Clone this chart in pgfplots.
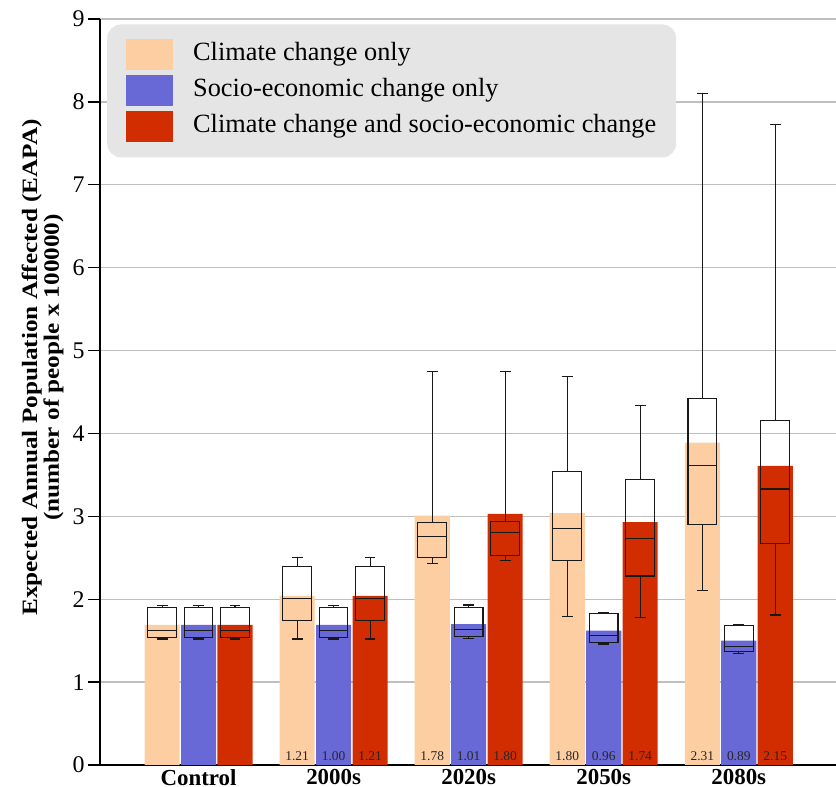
\documentclass[border=0pt]{standalone}
\usepackage{fontspec}
\setmainfont{Liberation Serif}
\newfontfamily\stretchbf[FakeStretch=1.15]{Liberation Serif}
\usepackage{pgfplots}
\pgfplotsset{compat=1.18}
\usepgfplotslibrary{statistics}
\definecolor{peach}{RGB}{253,206,162}
\definecolor{cblue}{RGB}{104,104,214}
\definecolor{cred}{RGB}{209,45,0}
\definecolor{leggray}{RGB}{229,229,229}
\newcommand{\bx}[6]{\addplot[black!90, line width=1.1bp, solid, mark=none, forget plot,
  boxplot/draw direction=y,
  boxplot prepared={draw position=#1, lower whisker=#2, lower quartile=#3, median=#4,
  upper quartile=#5, upper whisker=#6, box extend=0.212, whisker extend=0.08}] coordinates {};}
\begin{document}
\begin{tikzpicture}
\useasboundingbox (-100bp,-22bp) rectangle (736bp,765bp);
\begin{axis}[
  scale only axis, width=736bp, height=746bp,
  xmin=-0.73, xmax=4.72, ymin=0, ymax=9,
  axis x line*=bottom, axis y line*=left,
  axis line style={line width=2bp, black},
  ytick={0,...,9}, ymajorgrids,
  grid style={line width=1.3bp, black!25},
  tick align=outside, major tick length=12bp,
  tick style={line width=1.3bp, black},
  /pgf/number format/assume math mode=true,
  yticklabel style={font=\fontsize{24}{24}\selectfont},
  xtick={0,1,2,3,4},
  xticklabels={Control,2000s,2020s,2050s,2080s},
  xticklabel style={font=\bfseries\fontsize{23}{23}\selectfont, yshift=11bp},
  xtick style={draw=none},
  extra x ticks={0.5,1.5,2.5,3.5,4.5},
  extra x tick labels={},
  extra x tick style={grid=none, major tick length=21bp, tick style={line width=1.5bp, black, draw=black}},
  ylabel={Expected Annual Population Affected (EAPA)\\(number of people x 100000)},
  ylabel style={at={(axis description cs:-0.078,0.533)}, anchor=center, align=center,
    font={\stretchbf\bfseries\fontsize{22}{22}\selectfont}},
  legend style={at={(axis description cs:0.0095,0.993)}, anchor=north west,
    fill=leggray, draw=none, rounded corners=14bp,
    inner xsep=19bp, inner ysep=15bp, row sep=5bp,
    font=\fontsize{26.4}{26.4}\selectfont,
    nodes={inner sep=1bp, text height=18bp, text depth=6bp},
    /tikz/every odd column/.append style={column sep=19bp}},
  legend cell align=left,
]
% bars
\addplot[ybar, bar width=0.26, bar shift=0pt, fill=peach, draw=none,
  legend image code/.code={\fill[peach, sharp corners] (0bp,-15.5bp) rectangle (47bp,15.5bp);}]
  coordinates {(-0.27,1.69) (0.73,2.04) (1.73,3.01) (2.73,3.04) (3.73,3.89)};
\addlegendentry{Climate change only}
\addplot[ybar, bar width=0.26, bar shift=0pt, fill=cblue, draw=none,
  legend image code/.code={\fill[cblue, sharp corners] (0bp,-15.5bp) rectangle (47bp,15.5bp);}]
  coordinates {(0,1.69) (1,1.69) (2,1.70) (3,1.62) (4,1.50)};
\addlegendentry{Socio-economic change only}
\addplot[ybar, bar width=0.26, bar shift=0pt, fill=cred, draw=none,
  legend image code/.code={\fill[cred, sharp corners] (0bp,-15.5bp) rectangle (47bp,15.5bp);}]
  coordinates {(0.27,1.69) (1.27,2.04) (2.27,3.03) (3.27,2.93) (4.27,3.61)};
\addlegendentry{Climate change and socio-economic change}
% boxes: orange
\bx{-0.27}{1.52}{1.54}{1.62}{1.90}{1.92}
\bx{0.73}{1.52}{1.74}{2.01}{2.40}{2.50}
\bx{1.73}{2.43}{2.50}{2.76}{2.93}{4.75}
\bx{2.73}{1.79}{2.47}{2.85}{3.54}{4.69}
\bx{3.73}{2.11}{2.90}{3.61}{4.42}{8.10}
% boxes: blue
\bx{0}{1.52}{1.54}{1.62}{1.90}{1.92}
\bx{1}{1.52}{1.54}{1.62}{1.90}{1.92}
\bx{2}{1.53}{1.55}{1.63}{1.90}{1.93}
\bx{3}{1.46}{1.48}{1.56}{1.83}{1.84}
\bx{4}{1.34}{1.37}{1.43}{1.68}{1.70}
% boxes: red
\bx{0.27}{1.52}{1.54}{1.62}{1.90}{1.92}
\bx{1.27}{1.52}{1.74}{2.01}{2.40}{2.50}
\bx{2.27}{2.47}{2.53}{2.81}{2.94}{4.75}
\bx{3.27}{1.78}{2.28}{2.73}{3.44}{4.34}
\bx{4.27}{1.81}{2.67}{3.33}{4.16}{7.73}
% value labels
\addplot[draw=none, mark=none, forget plot, nodes near coords, point meta=explicit symbolic,
  nodes near coords style={anchor=base, inner sep=0pt, text=black!85, font=\fontsize{13.5}{13.5}\selectfont}]
  table[meta=lab] {
x y lab
0.73 0.05 1.21
1 0.05 1.00
1.27 0.05 1.21
1.73 0.05 1.78
2 0.05 1.01
2.27 0.05 1.80
2.73 0.05 1.80
3 0.05 0.96
3.27 0.05 1.74
3.73 0.05 2.31
4 0.05 0.89
4.27 0.05 2.15
};
\end{axis}
\end{tikzpicture}
\end{document}
